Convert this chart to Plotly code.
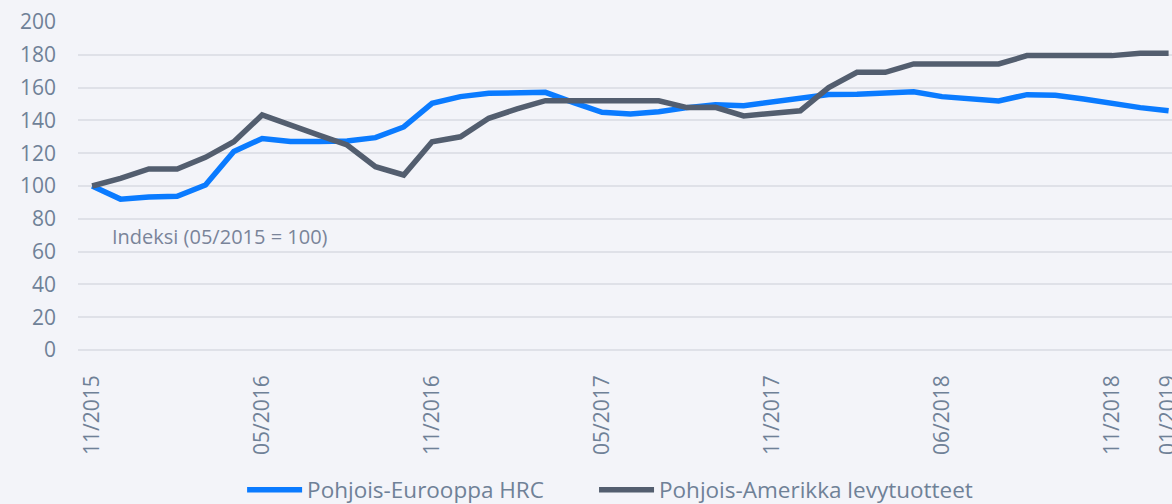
import plotly.graph_objects as go

x_index = list(range(39))

tick_positions = [0, 6, 12, 18, 24, 30, 36, 38]
tick_labels = ["11/2015", "05/2016", "11/2016", "05/2017", "11/2017", "06/2018", "11/2018", "01/2019"]

europe_hrc = [100, 92, 93.3, 93.7, 100.6, 121, 129, 127.2, 127.2, 127.4,
              129.5, 136, 150.4, 154.5, 156.5, 157.1, 157.1, 150.8, 144.9, 143.9,
              145.3, 147.8, 149.5, 149, 151.5, 153.3, 155.8, 156, 156.8, 157.5,
              154.5, 153.3, 151.8, 155.7, 155.3, 153, 150, 147.8, 145.9]

america_flat = [100, 104.7, 110.4, 110.4, 117.5, 127, 143.3, 137.5, 131, 125,
                111.8, 106.7, 127, 130, 141.3, 147, 152, 152, 152, 152,
                152, 147.8, 148, 142.7, 144.3, 145.9, 160, 169.3, 169.3, 174.4,
                174.4, 174.4, 174.4, 179.5, 179.5, 179.5, 179.5, 180.9, 180.9]

series_names = ["Pohjois-Eurooppa HRC", "Pohjois-Amerikka levytuotteet"]
note_text = "Indeksi (05/2015 = 100)"

BG = "#f3f4f9"
TXT = "#6f8197"
GRID = "#dfe1e8"
BLUE = "#0a7bff"
GREY = "#535e6f"
FONT = "'Open Sans', Lato, sans-serif"

fig = go.Figure()
fig.add_trace(go.Scatter(x=x_index, y=europe_hrc, mode="lines", name=series_names[0],
                         legend="legend",
                         line=dict(color=BLUE, width=5.5, shape="linear")))
fig.add_trace(go.Scatter(x=x_index, y=america_flat, mode="lines", name=series_names[1],
                         legend="legend2",
                         line=dict(color=GREY, width=5.5, shape="linear")))

fig.add_annotation(text=note_text, xref="paper", yref="y", x=0.029, y=69,
                   xanchor="left", yanchor="middle", showarrow=False,
                   font=dict(family=FONT, size=20, color="#7a8499"))

legend_common = dict(orientation="h", xanchor="left", y=-0.427, yanchor="middle",
                     font=dict(family=FONT, size=22.5, color=TXT),
                     bgcolor="rgba(0,0,0,0)", itemwidth=55)

fig.update_layout(
    width=1172, height=504,
    margin=dict(l=78, r=0, t=22, b=154, pad=0, autoexpand=False),
    paper_bgcolor=BG, plot_bgcolor=BG,
    font=dict(family=FONT, size=21, color=TXT),
    showlegend=True,
    legend=dict(x=0.15, **legend_common),
    legend2=dict(x=0.4717, **legend_common),
    xaxis=dict(range=[-0.5, 38.12], tickmode="array", tickvals=tick_positions,
               ticktext=tick_labels, tickangle=-90, showgrid=False, zeroline=False,
               showline=False, ticks="", ticklabelstandoff=20, automargin=False,
               ticklabeloverflow="allow",
               tickfont=dict(family=FONT, size=21, color=TXT)),
    yaxis=dict(range=[0, 200], tickmode="array", tickvals=list(range(0, 201, 20)),
               showgrid=True, gridcolor=GRID, gridwidth=2, zeroline=True,
               zerolinecolor=GRID, zerolinewidth=2, showline=False, ticks="",
               automargin=False,
               ticklabelstandoff=21, tickfont=dict(family=FONT, size=21, color=TXT)),
)

fig.write_html("out.html", config={"displayModeBar": False},
               post_script="document.body.style.margin='0';document.body.style.overflow='hidden';")
